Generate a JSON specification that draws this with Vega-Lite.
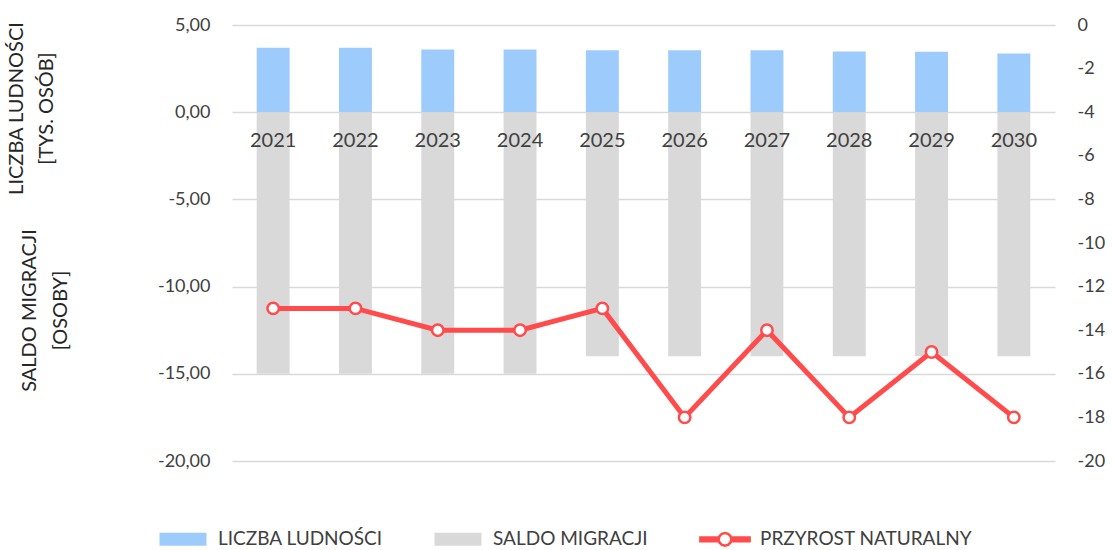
{
  "$schema": "https://vega.github.io/schema/vega-lite/v6.json",
  "width": 823,
  "height": 436,
  "autosize": "none",
  "padding": {"left": 232, "top": 25, "right": 58, "bottom": 89},
  "background": "white",
  "config": {
    "font": "Lato",
    "view": {"stroke": null},
    "axis": {"labelFont": "Lato", "titleFont": "Lato", "labelColor": "#404040", "titleColor": "#262626"}
  },
  "data": {
    "values": [
      {"year": "2021", "ludnosc": 3.70, "saldo": -15, "przyrost": -13},
      {"year": "2022", "ludnosc": 3.70, "saldo": -15, "przyrost": -13},
      {"year": "2023", "ludnosc": 3.60, "saldo": -15, "przyrost": -14},
      {"year": "2024", "ludnosc": 3.60, "saldo": -15, "przyrost": -14},
      {"year": "2025", "ludnosc": 3.55, "saldo": -14, "przyrost": -13},
      {"year": "2026", "ludnosc": 3.55, "saldo": -14, "przyrost": -18},
      {"year": "2027", "ludnosc": 3.55, "saldo": -14, "przyrost": -14},
      {"year": "2028", "ludnosc": 3.48, "saldo": -14, "przyrost": -18},
      {"year": "2029", "ludnosc": 3.47, "saldo": -14, "przyrost": -15},
      {"year": "2030", "ludnosc": 3.37, "saldo": -14, "przyrost": -18}
    ]
  },
  "encoding": {
    "x": {
      "field": "year",
      "type": "nominal",
      "scale": {"paddingInner": 0.6, "paddingOuter": 0.3},
      "axis": {
        "orient": "bottom",
        "offset": -349,
        "labelPadding": 18,
        "labelFontSize": 20,
        "labelAngle": 0,
        "ticks": false,
        "domain": false,
        "grid": false,
        "title": null,
        "zindex": 1
      }
    }
  },
  "layer": [
    {
      "mark": {"type": "bar"},
      "encoding": {
        "y": {
          "field": "ludnosc",
          "type": "quantitative",
          "scale": {"domain": [-20, 5], "nice": false},
          "axis": {
            "orient": "left",
            "values": [-20, -15, -10, -5, 0, 5],
            "labelExpr": "(datum.value < 0 ? '-' : '') + replace(format(abs(datum.value), '.2f'), '.', ',')",
            "labelFontSize": 18,
            "labelPadding": 22,
            "ticks": false,
            "domain": false,
            "grid": true,
            "gridColor": "#d9d9d9",
            "gridWidth": 1.5,
            "title": ["LICZBA LUDNOŚCI", "[TYS. OSÓB]"],
            "titleAngle": -90,
            "titleAlign": "center",
            "titleBaseline": "top",
            "titleX": -226,
            "titleY": 83,
            "titleFontSize": 20,
            "titleFontWeight": "normal",
            "titleLineHeight": 30,
            "zindex": 0
          }
        },
        "color": {
          "datum": "LICZBA LUDNOŚCI",
          "type": "nominal",
          "scale": {
            "domain": ["LICZBA LUDNOŚCI", "SALDO MIGRACJI", "PRZYROST NATURALNY"],
            "range": ["#9dcbfb", "#d9d9d9", "#ffffff"]
          },
          "legend": {
            "orient": "none",
            "legendX": -74,
            "legendY": 489,
            "direction": "horizontal",
            "title": null,
            "symbolSize": 2209,
            "labelFontSize": 19,
            "labelColor": "#404040",
            "labelLimit": 400,
            "labelOffset": 10,
            "columnPadding": 46,
            "encode": {
              "symbols": {
                "update": {
                  "shape": {"signal": "datum.value === 'PRZYROST NATURALNY' ? 'M-1.1,0H-0.27M-1.1,-0.08H-0.27M-1.1,0.08H-0.27M0.27,0H1.1M0.27,-0.08H1.1M0.27,0.08H1.1M0.27,0L0.234,0.135L0.135,0.234L0,0.27L-0.135,0.234L-0.234,0.135L-0.27,0L-0.234,-0.135L-0.135,-0.234L0,-0.27L0.135,-0.234L0.234,-0.135Z' : 'M-1,-0.28H1V0.28H-1Z'"},
                  "stroke": {"signal": "datum.value === 'PRZYROST NATURALNY' ? '#ff4b4b' : 'transparent'"},
                  "strokeWidth": {"value": 2.5},
                  "opacity": {"value": 1}
                }
              }
            }
          }
        }
      }
    },
    {
      "mark": {"type": "bar"},
      "encoding": {
        "y": {
          "field": "saldo",
          "type": "quantitative",
          "scale": {"domain": [-20, 5], "nice": false},
          "axis": {
            "orient": "left",
            "labels": false,
            "ticks": false,
            "domain": false,
            "grid": false,
            "title": ["SALDO MIGRACJI", "[OSOBY]"],
            "titleAngle": -90,
            "titleAlign": "center",
            "titleBaseline": "top",
            "titleX": -213,
            "titleY": 285,
            "titleFontSize": 20,
            "titleFontWeight": "normal",
            "titleLineHeight": 31
          }
        },
        "color": {"datum": "SALDO MIGRACJI", "type": "nominal"}
      }
    },
    {
      "mark": {
        "type": "line",
        "color": "#ff4b4b",
        "strokeWidth": 5,
        "point": {"filled": true, "fill": "#ffffff", "stroke": "#ff4b4b", "strokeWidth": 2.5, "size": 130, "opacity": 1}
      },
      "encoding": {
        "y": {
          "field": "przyrost",
          "type": "quantitative",
          "scale": {"domain": [-20, 0], "nice": false},
          "axis": {
            "orient": "right",
            "values": [-20, -18, -16, -14, -12, -10, -8, -6, -4, -2, 0],
            "labelExpr": "(datum.value < 0 ? '-' : '') + abs(datum.value)",
            "labelFontSize": 18,
            "labelPadding": 22,
            "ticks": false,
            "domain": false,
            "grid": false,
            "title": null
          }
        }
      }
    }
  ],
  "resolve": {"scale": {"y": "independent"}}
}
